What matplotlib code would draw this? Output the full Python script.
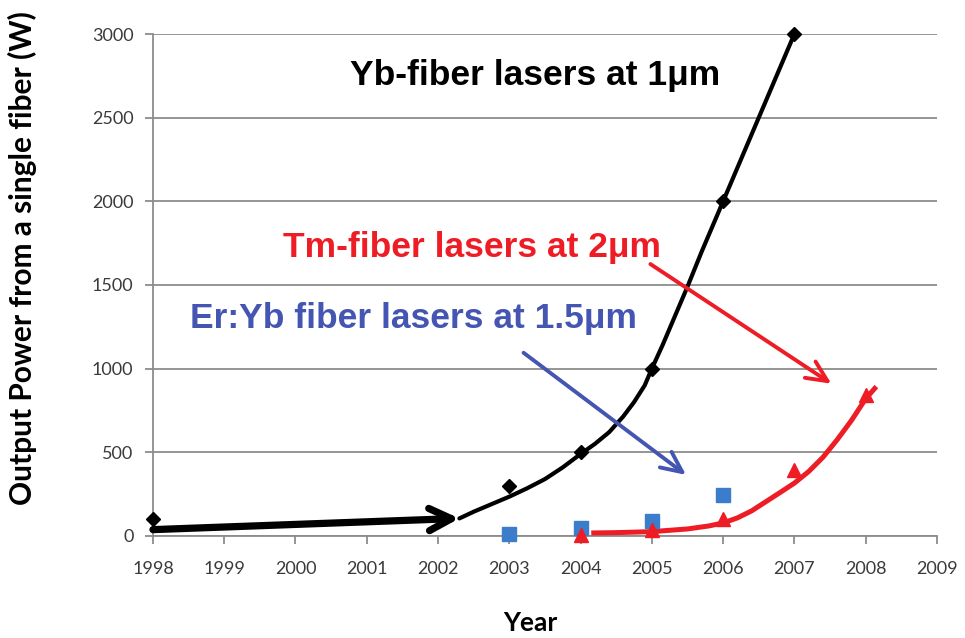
import numpy as np
import matplotlib
matplotlib.use("Agg")
import matplotlib.pyplot as plt

# measured points
yb_years = [1998, 2003, 2004, 2005, 2006, 2007]
yb_power = [100, 300, 500, 1000, 2000, 3000]

eryb_years = [2003, 2004, 2005, 2006]
eryb_power = [10, 48, 92, 245]

tm_years = [2004, 2005, 2006, 2007, 2008]
tm_power = [5, 36, 100, 395, 843]

# hand-drawn trend curves
yb_trend_x = [2002.3, 2002.5, 2002.75, 2003.0, 2003.25, 2003.5, 2003.75, 2004.0, 2004.2,
              2004.4, 2004.6, 2004.75, 2004.9, 2005.0, 2005.15, 2005.3, 2005.5,
              2005.7, 2005.85, 2006.0, 2006.5, 2007.0]
yb_trend_y = [105, 145, 190, 235, 285, 340, 410, 490, 550,
              620, 715, 800, 900, 1000, 1140, 1290, 1490,
              1700, 1850, 2000, 2500, 3000]

tm_trend_x = [2004.15, 2004.5, 2005.0, 2005.5, 2005.8, 2006.0, 2006.2, 2006.4, 2006.6,
              2006.8, 2007.0, 2007.2, 2007.4, 2007.6, 2007.8, 2008.0, 2008.15]
tm_trend_y = [18, 20, 26, 42, 60, 78, 108, 150, 205,
              260, 316, 385, 470, 575, 690, 820, 893]

# early-years arrow (1998 -> 2002)
yb_arrow_start = (1998.0, 38)
yb_arrow_end = (2002.3, 105)

eryb_arrow_start = (2003.2, 1095)
eryb_arrow_end = (2005.48, 365)

tm_arrow_start = (2004.98, 1625)
tm_arrow_end = (2007.52, 910)

x_ticks = list(range(1998, 2010))
y_ticks = [0, 500, 1000, 1500, 2000, 2500, 3000]

RED = "#ee1c24"
BLUE_TXT = "#4455b2"
BLUE_SQ = "#3b7dca"
GRID = "#8c8c8c"

fig = plt.figure(figsize=(9.65, 6.38), dpi=100)
ax = fig.add_axes([0.1585, 0.1599, 0.8124, 0.7868])

ax.set_xlim(1998, 2009)
ax.set_ylim(0, 3000)
ax.set_xticks(x_ticks)
ax.set_yticks(y_ticks)
ax.grid(axis="y", color=GRID, linewidth=1.3)
ax.set_axisbelow(True)
for s in ["top", "right"]:
    ax.spines[s].set_visible(False)
for s in ["left", "bottom"]:
    ax.spines[s].set_color(GRID)
    ax.spines[s].set_linewidth(1.3)
ax.tick_params(axis="both", colors=GRID, length=6, width=1.3, labelcolor="#3a3a3a",
               labelsize=13)
ax.tick_params(axis="x", pad=12)
ax.tick_params(axis="y", pad=8)
for lab in ax.get_xticklabels() + ax.get_yticklabels():
    lab.set_family("Lato")

# trend curves
ax.plot(yb_trend_x, yb_trend_y, color="black", lw=3.0, solid_capstyle="round",
        solid_joinstyle="round", zorder=3)
ax.plot(tm_trend_x, tm_trend_y, color=RED, lw=3.6, solid_capstyle="butt",
        solid_joinstyle="round", zorder=3)

# data markers
ax.plot(yb_years, yb_power, "D", color="black", ms=7, zorder=4, clip_on=False)
ax.plot(eryb_years, eryb_power, "s", color=BLUE_SQ, ms=10.5, zorder=4, clip_on=False)
ax.plot(tm_years, tm_power, "^", color=RED, ms=10, zorder=5, clip_on=False)

# arrows
ax.annotate("", xy=yb_arrow_end, xytext=yb_arrow_start,
            arrowprops=dict(arrowstyle="->,head_length=1.6,head_width=0.8", color="black",
                            lw=5.2, shrinkA=0, shrinkB=0), zorder=3)
ax.annotate("", xy=eryb_arrow_end, xytext=eryb_arrow_start,
            arrowprops=dict(arrowstyle="->,head_length=1.5,head_width=0.7", color=BLUE_TXT,
                            lw=2.8, shrinkA=0, shrinkB=0), zorder=3)
ax.annotate("", xy=tm_arrow_end, xytext=tm_arrow_start,
            arrowprops=dict(arrowstyle="->,head_length=1.5,head_width=0.7", color=RED,
                            lw=2.8, shrinkA=0, shrinkB=0), zorder=3)

# labels on the chart
txt = dict(family="Liberation Sans", fontweight="bold", fontsize=25.5, va="center",
           transform=fig.transFigure)
fig.text(350 / 965, 1 - 75 / 638, "Yb-fiber lasers at 1μm", color="black", ha="left", **txt)
fig.text(283 / 965, 1 - 247 / 638, "Tm-fiber lasers at 2μm", color=RED, ha="left", **txt)
fig.text(190 / 965, 1 - 318 / 638, "Er:Yb fiber lasers at 1.5μm", color=BLUE_TXT, ha="left", **txt)

fig.text(530 / 965, 1 - 623 / 638, "Year", family="Lato", fontweight="bold",
         fontsize=19, ha="center", va="center")
fig.text(22 / 965, 1 - 258 / 638, "Output Power from a single fiber (W)", family="Lato",
         fontweight="bold", fontsize=21.5, rotation=90, ha="center", va="center")

fig.savefig("out.png", dpi=100)
